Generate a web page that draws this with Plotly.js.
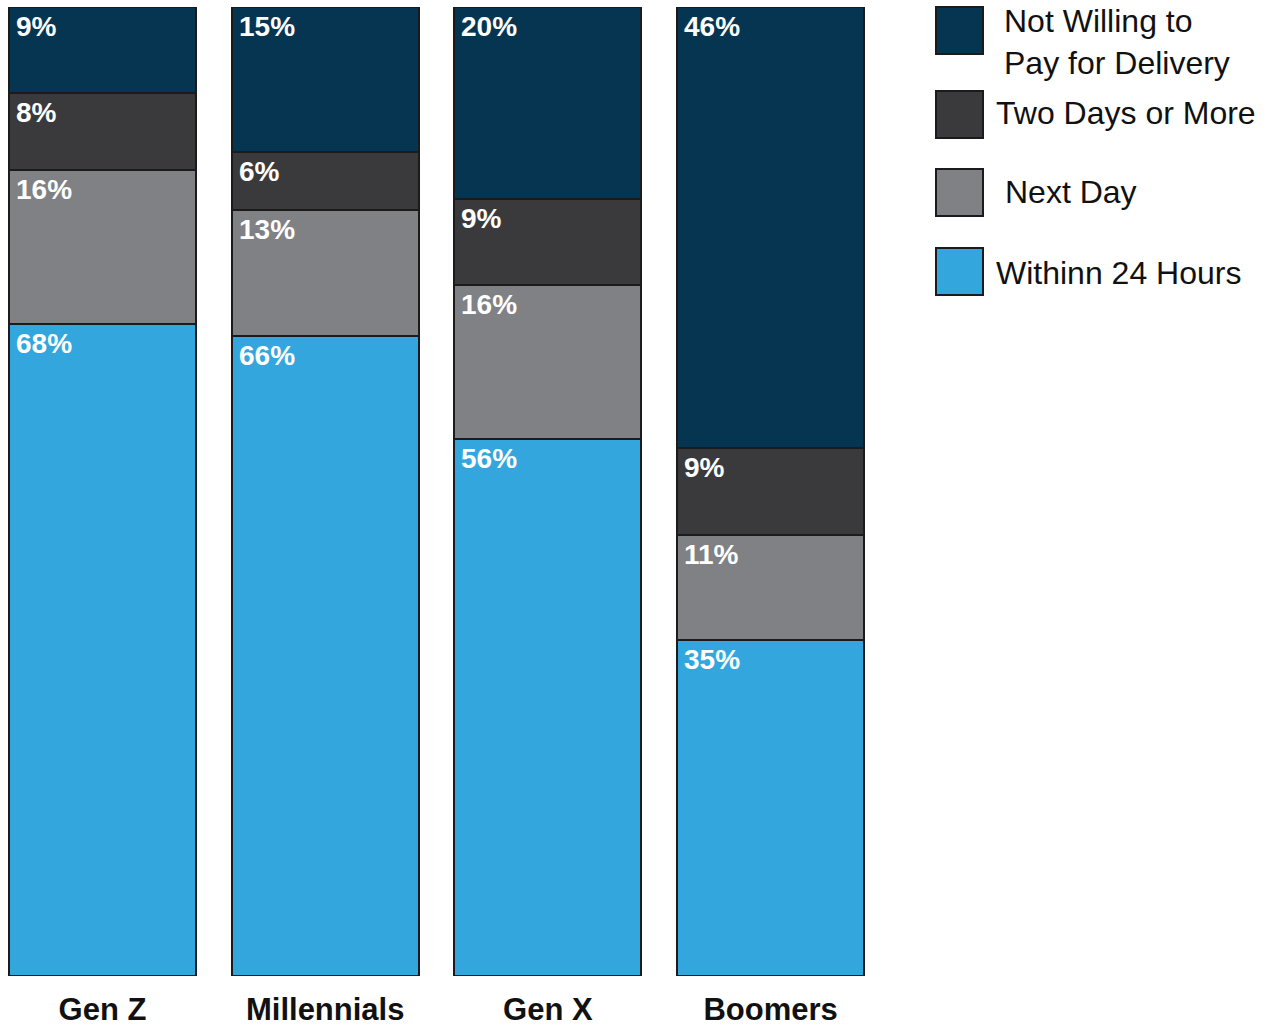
<!DOCTYPE html>
<html>
<head>
<meta charset="utf-8">
<script src="https://cdn.plot.ly/plotly-3.0.1.min.js"></script>
<style>html,body{margin:0;padding:0;background:#fff;}#chart{width:1268px;height:1029px;}</style>
</head>
<body>
<div id="chart"></div>
<script>
// ---- data ----
var categories = ["Gen Z", "Millennials", "Gen X", "Boomers"];
var within24 = [68, 66, 56, 35];
var nextDay = [16, 13, 16, 11];
var twoDays = [8, 6, 9, 9];
var notWilling = [9, 15, 20, 46];
var seriesNames = ["Within 24 Hours", "Next Day", "Two Days or More", "Not Willing to Pay for Delivery"];
var legendLabels = ["Not Willing to<br>Pay for Delivery", "Two Days or More", "Next Day", "Withinn 24 Hours"];

// ---- style ----
var colors = ["#33a7dd", "#808184", "#3a3a3c", "#063552"];
var font = "Liberation Sans, Arial, sans-serif";
var W = 1268, H = 1029;
var mL = 0, mR = 388, mT = 7, mB = 53;
var plotW = W - mL - mR, plotH = H - mT - mB;
var unit = 222.7, firstCenter = 102.5;
var xr0 = -firstCenter / unit, xr1 = xr0 + plotW / unit;
var barW = 0.84;

var seriesVals = [within24, nextDay, twoDays, notWilling];
var traces = seriesVals.map(function (vals, k) {
  return {
    type: "bar", name: seriesNames[k], x: categories.map(function (c, i) { return i; }), y: vals,
    width: barW,
    marker: { color: colors[k], line: { color: "#1b1b1b", width: 2 } },
    hoverinfo: "name+y", showlegend: false
  };
});

// value labels at top-left of each segment (normalized via totals)
var annotations = [];
categories.forEach(function (c, i) {
  var total = 0; seriesVals.forEach(function (s) { total += s[i]; });
  var cum = 0;
  seriesVals.forEach(function (s, k) {
    cum += s[i];
    annotations.push({
      xref: "x", yref: "y", x: i - barW / 2, y: cum / total * 100,
      xanchor: "left", yanchor: "top", xshift: 5, yshift: -2,
      text: s[i] + "%", showarrow: false,
      font: { family: font, size: 28, color: "#ffffff", weight: "bold" }
    });
  });
});

// custom legend
function px2paperX(px) { return (px - mL) / plotW; }
function px2paperY(py) { return (H - mB - py) / plotH; }
var legBoxTop = [7, 91, 169, 248];
var legTextX = [1002, 994, 1003, 994];
var legTextY = [42, 113, 192, 273];
var legColors = [colors[3], colors[2], colors[1], colors[0]];
var shapes = [];
legendLabels.forEach(function (lab, j) {
  shapes.push({
    type: "rect", xref: "paper", yref: "paper",
    x0: px2paperX(936), x1: px2paperX(983),
    y0: px2paperY(legBoxTop[j]), y1: px2paperY(legBoxTop[j] + 47),
    fillcolor: legColors[j], line: { color: "#1b1b1b", width: 2 }
  });
  annotations.push({
    xref: "paper", yref: "paper", x: px2paperX(legTextX[j]), y: px2paperY(legTextY[j]),
    xanchor: "left", yanchor: "middle", align: "left", showarrow: false,
    text: lab, font: { family: font, size: 32, color: "#111111" }
  });
});

var layout = {
  width: W, height: H,
  margin: { l: mL, r: mR, t: mT, b: mB, pad: 0 },
  paper_bgcolor: "#ffffff", plot_bgcolor: "#ffffff",
  barmode: "stack", barnorm: "percent",
  showlegend: false,
  xaxis: {
    range: [xr0, xr1], tickmode: "array", tickvals: [0, 1, 2, 3], ticktext: categories,
    showgrid: false, zeroline: false, showline: false, ticks: "",
    ticklabelstandoff: 12,
    tickfont: { family: font, size: 31, color: "#111111", weight: "bold" }
  },
  yaxis: { range: [0, 100], visible: false, showgrid: false, zeroline: false },
  annotations: annotations, shapes: shapes
};

Plotly.newPlot("chart", traces, layout, { displayModeBar: false, staticPlot: true });
</script>
</body>
</html>
